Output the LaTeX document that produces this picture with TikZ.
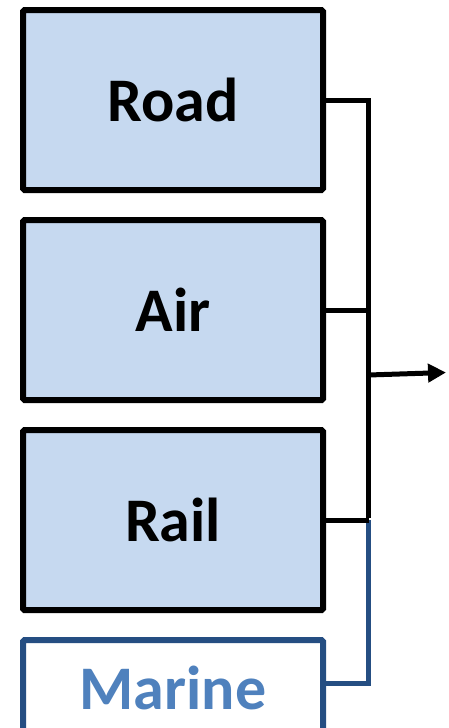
\documentclass[tikz,border=0pt]{standalone}
\usepackage{fontspec}
\setmainfont{Carlito}
\usetikzlibrary{arrows.meta}
\definecolor{boxfill}{HTML}{C6D9F0}
\definecolor{navy}{HTML}{254E82}
\definecolor{marinetext}{HTML}{4F81BD}
\begin{document}
\begin{tikzpicture}[x=1pt,y=-1pt,
  mode/.style={draw=black, line width=6pt, fill=boxfill, rounded corners=1.5pt,
    minimum width=300pt, minimum height=180pt, inner sep=0pt,
    font=\fontsize{62}{64}\selectfont\bfseries},
  link/.style={line width=5pt},
]
\useasboundingbox (0,0) rectangle (448,728);
\clip (0,0) rectangle (448,728);
% transport mode boxes
\node[mode] (road) at (173,100) {Road};
\node[mode] (air) at (173,310) {Air};
\node[mode] (rail) at (173,520) {Rail};
\node[mode, draw=navy, fill=white, text=marinetext, minimum height=96pt] (marine) at (173,688) {Marine};
% junction points on the collecting bar
\coordinate (jtop) at (368.5,100);
\coordinate (jair) at (368.5,310);
\coordinate (jrail) at (368.5,520);
\coordinate (jmar) at (368.5,683);
\coordinate (jout) at (368.5,375);
\coordinate (tip) at (446,372.5);
% connectors
\draw[link, navy] (marine.east |- jmar) -- (jmar) -- (jrail);
\draw[link] (road.east) -- (jtop) -- ([yshift=2.5pt]jrail);
\draw[link] (air.east) -- (jair);
\draw[link] (rail.east) -- (jrail);
\draw[link, -{Triangle[length=18pt,width=18pt]}] (jout) -- (tip);
\end{tikzpicture}
\end{document}
